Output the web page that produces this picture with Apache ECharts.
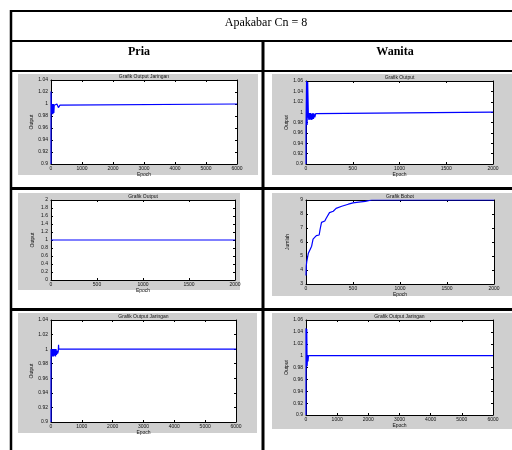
<!DOCTYPE html>
<html>
<head>
<meta charset="utf-8">
<title>Apakabar Cn = 8</title>
<script src="https://cdn.jsdelivr.net/npm/echarts@6/dist/echarts.min.js"></script>
<style>
  html, body { margin: 0; padding: 0; background: #fff; }
  #chart { width: 512px; height: 450px; }
</style>
</head>
<body>
<div id="chart"></div>
<script>
// table headers
const tableTitle = 'Apakabar Cn = 8'
const columnNames = ['Pria', 'Wanita']

// panel texts (too small in the source to read exactly)
const panelTitles = ['Grafik Output Jaringan', 'Grafik Output', 'Grafik Output', 'Grafik Bobot', 'Grafik Output Jaringan', 'Grafik Output Jaringan']
const yNames = ['Output', 'Output', 'Output', 'Jumlah', 'Output', 'Output']
const xName = 'Epoch'

// series values as [epoch, value]
const pria1 = [[0, 0.9], [0, 1.021], [12, 0.99], [22, 1.0], [32, 0.984], [42, 1.0], [52, 0.983], [62, 0.999], [72, 0.984], [82, 1.0], [92, 0.985], [105, 0.998], [140, 0.997], [190, 1.0], [240, 0.994], [290, 0.998], [350, 1.0], [6000, 1.0]]
const wanita1 = [[0, 0.9], [0, 0.968], [6, 1.06], [12, 0.975], [18, 1.058], [26, 0.99], [32, 0.985], [38, 0.998], [44, 0.986], [50, 0.998], [56, 0.985], [62, 0.997], [68, 0.986], [74, 0.998], [80, 0.987], [86, 0.997], [94, 0.99], [104, 0.997], [112, 0.999], [120, 1.0], [2000, 1.0]]
const pria2 = [[0, 1], [2000, 1]]
const wanita2 = [[0, 3.6], [3, 4.3], [6, 4.3], [8, 4.6], [20, 4.65], [25, 5.2], [35, 5.25], [45, 5.3], [60, 5.7], [75, 6.2], [95, 6.3], [110, 6.45], [140, 6.5], [150, 6.9], [165, 7.4], [200, 7.5], [215, 7.7], [250, 8.1], [290, 8.2], [320, 8.4], [380, 8.55], [450, 8.7], [500, 8.8], [560, 8.85], [630, 8.9], [700, 9.0], [2000, 9.0]]
const pria3 = [[0, 0.9], [0, 1.0], [18, 0.99], [34, 1.0], [50, 0.99], [66, 1.0], [82, 0.99], [98, 1.0], [114, 0.991], [130, 1.0], [146, 0.99], [162, 1.0], [178, 0.992], [194, 0.998], [215, 0.994], [235, 0.997], [245, 1.006], [252, 1.0], [6000, 1.0]]
const wanita3 = [[0, 0.9], [0, 1.046], [12, 0.985], [24, 1.045], [36, 0.982], [50, 1.0], [64, 0.99], [80, 1.0], [6000, 1.0]]

// axis ranges [min, max, interval]
const xRanges = [[0, 6000, 1000], [0, 2000, 500], [0, 2000, 500], [0, 2000, 500], [0, 6000, 1000], [0, 6000, 1000]]
const yRanges = [[0.9, 1.04, 0.02], [0.9, 1.06, 0.02], [0, 2, 0.2], [3, 9, 1], [0.9, 1.04, 0.02], [0.9, 1.06, 0.02]]

const seriesData = [pria1, wanita1, pria2, wanita2, pria3, wanita3]

// layout: gray figure backgrounds and axes boxes [x, y, w, h]
const figRects = [[18, 74, 240, 101], [272, 74, 240, 101], [18, 193, 222, 97], [272, 193, 240, 103], [18, 313, 239, 120], [272, 313, 240, 116]]
const axRects = [[51, 80, 186, 84], [306, 81, 187, 83], [51, 200, 184, 80], [306, 200, 188, 84], [51, 320, 185, 102], [306, 320, 187, 95]]

const tickFont = { fontSize: 5, color: '#111', fontFamily: 'Liberation Sans' }
// matlab style numbers, no thousands separator
const plain = v => String(Math.round(v * 1000) / 1000)

const grid = [], xAxis = [], yAxis = [], series = [], graphic = []

figRects.forEach(r => {
  graphic.push({ type: 'rect', z: -10, shape: { x: r[0], y: r[1], width: r[2], height: r[3] }, style: { fill: '#cfcfcf' } })
})

axRects.forEach((r, i) => {
  grid.push({ left: r[0], top: r[1], width: r[2], height: r[3], show: true, backgroundColor: '#fff', borderWidth: 0 })
  const [xmin, xmax, xint] = xRanges[i]
  const [ymin, ymax, yint] = yRanges[i]
  const line = { show: true, onZero: false, lineStyle: { color: '#000', width: 1 } }
  const tick = { show: true, inside: true, length: 2, lineStyle: { color: '#000' } }
  xAxis.push({
    type: 'value', gridIndex: i, min: xmin, max: xmax, interval: xint,
    axisLine: line, axisTick: tick, splitLine: { show: false },
    axisLabel: { ...tickFont, margin: 2, formatter: plain },
    name: xName, nameLocation: 'middle', nameGap: 8, nameTextStyle: { ...tickFont }
  })
  xAxis.push({
    type: 'value', gridIndex: i, position: 'top', min: xmin, max: xmax, interval: xint,
    axisLine: line, axisTick: tick, splitLine: { show: false }, axisLabel: { show: false }
  })
  yAxis.push({
    type: 'value', gridIndex: i, min: ymin, max: ymax, interval: yint,
    axisLine: line, axisTick: tick, splitLine: { show: false },
    axisLabel: { ...tickFont, margin: 3, formatter: plain },
    name: yNames[i], nameLocation: 'middle', nameGap: 16, nameTextStyle: { ...tickFont }
  })
  yAxis.push({
    type: 'value', gridIndex: i, position: 'right', min: ymin, max: ymax, interval: yint,
    axisLine: line, axisTick: tick, splitLine: { show: false }, axisLabel: { show: false }
  })
  series.push({
    type: 'line', xAxisIndex: 2 * i, yAxisIndex: 2 * i, data: seriesData[i],
    symbol: 'none',
    lineStyle: { color: '#0000ff', width: 1.2 }
  })
  graphic.push({
    type: 'text', z: 10,
    style: { text: panelTitles[i], x: r[0] + r[2] / 2, y: r[1] - 3, textAlign: 'center', textVerticalAlign: 'middle', fontSize: 5, fontFamily: 'Liberation Sans', fill: '#111' }
  })
})

// table lines
const hLines = [[10, 11, 512, 2], [10, 41, 512, 2], [10, 71, 512, 2], [10, 188.5, 512, 3], [10, 309.5, 512, 3]]
hLines.forEach(l => {
  graphic.push({ type: 'line', z: 20, shape: { x1: l[0], y1: l[1], x2: l[2], y2: l[1] }, style: { stroke: '#000', lineWidth: l[3] } })
})
graphic.push({ type: 'line', z: 20, shape: { x1: 11, y1: 10, x2: 11, y2: 450 }, style: { stroke: '#000', lineWidth: 2.5 } })
graphic.push({ type: 'line', z: 20, shape: { x1: 263, y1: 41, x2: 263, y2: 450 }, style: { stroke: '#000', lineWidth: 3 } })

// header texts
graphic.push({ type: 'text', z: 20, style: { text: tableTitle, x: 266, y: 23, textAlign: 'center', textVerticalAlign: 'middle', fontSize: 12, fontFamily: 'Liberation Serif', fill: '#000' } })
graphic.push({ type: 'text', z: 20, style: { text: columnNames[0], x: 139, y: 52, textAlign: 'center', textVerticalAlign: 'middle', fontSize: 12, fontWeight: 'bold', fontFamily: 'Liberation Serif', fill: '#000' } })
graphic.push({ type: 'text', z: 20, style: { text: columnNames[1], x: 395, y: 52, textAlign: 'center', textVerticalAlign: 'middle', fontSize: 12, fontWeight: 'bold', fontFamily: 'Liberation Serif', fill: '#000' } })

const chart = echarts.init(document.getElementById('chart'))
chart.setOption({
  animation: false,
  backgroundColor: '#fff',
  grid, xAxis, yAxis, series, graphic
})
</script>
</body>
</html>
